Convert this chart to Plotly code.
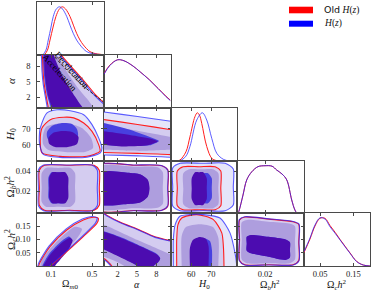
import plotly.graph_objects as go

# ---------------- data ----------------
PARAM_LABELS = ["Ω<sub><i>m</i>0</sub>", "<i>α</i>", "<i>H</i><sub>0</sub>",
                "Ω<sub><i>b</i></sub><i>h</i><sup>2</sup>", "Ω<sub><i>c</i></sub><i>h</i><sup>2</sup>"]
TICKVALS = [[0.1, 0.5], [2, 5, 8], [60, 70], [0.02, 0.04], [0.05, 0.10, 0.15]]
TICKTEXT = [["0.1", "0.5"], ["2", "5", "8"], ["60", "70"], ["0.02", "0.04"], ["0.05", "0.10", "0.15"]]
XTICKVALS_BOTTOM = [[0.1, 0.5], [2, 5, 8], [60, 70], [0.02], [0.05, 0.15]]
XTICKTEXT_BOTTOM = [["0.1", "0.5"], ["2", "5", "8"], ["60", "70"], ["0.02"], ["0.05", "0.15"]]
SERIES = ["Old <i>H</i>(<i>z</i>)", "<i>H</i>(<i>z</i>)"]

# 1D marginals (normalised to peak = 1)
OM_BLUE_X = [0.02, 0.05, 0.073, 0.1, 0.122, 0.15, 0.181, 0.21, 0.253, 0.285, 0.317, 0.35, 0.383, 0.415, 0.448, 0.5, 0.546, 0.6]
OM_BLUE_P = [0.0, 0.1, 0.31, 0.58, 0.80, 0.95, 1.0, 0.96, 0.80, 0.62, 0.45, 0.31, 0.21, 0.13, 0.07, 0.03, 0.015, 0.005]
OM_RED_X = [0.035, 0.065, 0.09, 0.12, 0.148, 0.18, 0.21, 0.24, 0.285, 0.318, 0.35, 0.383, 0.415, 0.448, 0.48, 0.53, 0.578, 0.617]
OM_RED_P = [0.0, 0.1, 0.31, 0.58, 0.80, 0.95, 1.0, 0.96, 0.80, 0.62, 0.45, 0.31, 0.21, 0.13, 0.07, 0.03, 0.015, 0.005]

AL_X = [-0.1, 0.8, 2.0, 3.0, 4.4, 5.5, 6.95, 8.3, 9.5, 10.2]
AL_BLUE_P = [0.70, 0.88, 1.0, 0.98, 0.87, 0.75, 0.58, 0.40, 0.235, 0.15]
AL_RED_P = [0.71, 0.89, 1.0, 0.98, 0.87, 0.75, 0.585, 0.405, 0.245, 0.16]

H0_RED_X = [50.0, 52.5, 54.4, 57.4, 59.4, 61.9, 63.1, 64.2, 65.3, 67.8, 70.3, 72.5, 75.0, 80.0]
H0_RED_P = [0.0, 0.003, 0.02, 0.19, 0.50, 0.92, 1.0, 0.95, 0.78, 0.30, 0.056, 0.01, 0.0, 0.0]
H0_BLUE_X = [50.0, 52.5, 54.4, 57.4, 59.4, 62.8, 65.6, 67.8, 70.3, 72.8, 76.1, 79.4, 82.0]
H0_BLUE_P = [0.0, 0.0, 0.006, 0.10, 0.30, 0.85, 1.0, 0.85, 0.47, 0.16, 0.035, 0.0, 0.0]

OB_X = [-0.001, -0.0002, 0.0027, 0.0056, 0.0095, 0.0144, 0.0199, 0.0254, 0.029, 0.0332, 0.0369, 0.0408, 0.0433, 0.0449, 0.047]
OB_P = [0.0, 0.063, 0.38, 0.70, 0.87, 0.98, 1.0, 0.99, 0.91, 0.825, 0.70, 0.275, 0.063, 0.0, 0.0]

OC_X = [0.0015, 0.0195, 0.0345, 0.0495, 0.0646, 0.0796, 0.095, 0.11, 0.125, 0.14, 0.16, 0.18, 0.2]
OC_BLUE_P = [0.297, 0.58, 0.85, 1.0, 0.975, 0.815, 0.68, 0.54, 0.40, 0.264, 0.09, 0.02, 0.0]
OC_RED_P = [0.28, 0.56, 0.83, 0.99, 0.99, 0.84, 0.70, 0.55, 0.41, 0.27, 0.095, 0.02, 0.0]

# 2D credible-region outlines (data units): BO blue outer, RO red outer, MID middle, BI blue inner, RI red inner
OM_AL = {
    "BO": ([-0.005, 0.005, 0.012, 0.024, 0.045, 0.063, 0.07, 0.72, 0.612, 0.522, 0.412, 0.292, 0.182, 0.152],
           [11.0, 10.2, 7.0, 4.5, 2.0, 0.0, -1.0, -1.0, 0.7, 2.4, 5.0, 7.7, 10.2, 11.0]),
    "RO": ([0.005, 0.015, 0.022, 0.034, 0.055, 0.073, 0.08, 0.73, 0.628, 0.538, 0.428, 0.308, 0.198, 0.17],
           [11.0, 10.2, 7.0, 4.5, 2.0, 0.0, -1.0, -1.0, 0.7, 2.4, 5.0, 7.7, 10.2, 11.0]),
    "MID": ([0.01, 0.02, 0.03, 0.045, 0.07, 0.09, 0.1, 0.56, 0.52, 0.461, 0.363, 0.256, 0.158, 0.15],
            [11.0, 10.2, 7.0, 4.5, 2.0, 0.0, -1.0, -1.0, -0.1, 1.46, 3.79, 6.9, 10.2, 11.0]),
    "BI": ([0.01, 0.017, 0.031, 0.061, 0.1, 0.11, 0.42, 0.402, 0.373, 0.295, 0.197, 0.116, 0.11],
           [11.0, 10.2, 6.32, 2.43, -0.1, -1.0, -1.0, -0.1, 0.69, 3.02, 6.32, 10.2, 11.0]),
    "RI": ([0.025, 0.031, 0.041, 0.07, 0.109, 0.115, 0.43, 0.412, 0.383, 0.305, 0.207, 0.126, 0.12],
           [11.0, 10.2, 6.32, 2.43, -0.1, -1.0, -1.0, -0.1, 0.69, 3.02, 6.32, 10.2, 11.0]),
}
DECEL_OM = [0.105, 0.18, 0.253, 0.32, 0.383, 0.46, 0.546, 0.61, 0.66]
DECEL_AL = [10.6, 8.8, 7.29, 5.95, 4.7, 3.43, 2.1, 1.13, 0.45]

OM_H0 = {
    "BO": ([-0.011, -0.005, 0.061, 0.158, 0.288, 0.419, 0.50, 0.565, 0.597, 0.581, 0.451, 0.187, 0.028, -0.011],
           [68.3, 70.4, 79.8, 81.8, 81.2, 78.7, 72.5, 64.2, 57.9, 54.8, 52.1, 52.0, 53.7, 60.0]),
    "RO": ([-0.005, 0.012, 0.093, 0.224, 0.321, 0.419, 0.50, 0.565, 0.578, 0.451, 0.187, 0.012],
           [62.1, 70.4, 75.6, 77.1, 76.7, 73.5, 68.3, 60.0, 55.8, 52.7, 52.6, 54.8]),
    "MID": ([0.022, 0.051, 0.139, 0.285, 0.402, 0.49, 0.51, 0.431, 0.236, 0.07, 0.022],
            [66.0, 71.0, 72.9, 72.9, 70.4, 64.2, 57.9, 55.4, 55.4, 56.7, 60.4]),
    "BI": ([0.061, 0.109, 0.207, 0.305, 0.353, 0.363, 0.305, 0.187, 0.09, 0.061],
           [67.9, 71.6, 73.5, 72.9, 69.8, 65.4, 61.0, 59.8, 61.7, 64.8]),
    "RI": ([0.075, 0.119, 0.207, 0.305, 0.368, 0.353, 0.265, 0.139, 0.08],
           [64.2, 67.3, 68.5, 67.9, 64.8, 60.4, 58.5, 58.5, 60.7]),
}
OM_OB = {
    "BO": ([-0.024, -0.024, 0.026, 0.26, 0.50, 0.551, 0.551, 0.551, 0.50, 0.26, 0.026, -0.024],
           [0.023, 0.041, 0.046, 0.046, 0.046, 0.041, 0.023, 0.0053, 0.0003, 0.0003, 0.0003, 0.0053]),
    "RO": ([-0.014, -0.014, 0.036, 0.28, 0.52, 0.571, 0.571, 0.571, 0.52, 0.28, 0.036, -0.014],
           [0.023, 0.0407, 0.0457, 0.0457, 0.0457, 0.0407, 0.023, 0.0057, 0.0007, 0.0007, 0.0007, 0.0057]),
    "MID": ([0.009, 0.009, 0.05, 0.17, 0.29, 0.334, 0.334, 0.334, 0.29, 0.17, 0.05, 0.009],
            [0.0237, 0.038, 0.043, 0.043, 0.043, 0.038, 0.0237, 0.009, 0.0043, 0.0043, 0.0043, 0.009]),
    "BI": ([0.075, 0.075, 0.105, 0.165, 0.225, 0.255, 0.255, 0.255, 0.225, 0.165, 0.105, 0.075],
           [0.0232, 0.0337, 0.0387, 0.0387, 0.0387, 0.0337, 0.0232, 0.0127, 0.0077, 0.0077, 0.0077, 0.0127]),
    "RI": ([0.083, 0.083, 0.113, 0.175, 0.238, 0.268, 0.268, 0.268, 0.238, 0.175, 0.113, 0.083],
           [0.0232, 0.0337, 0.0387, 0.0387, 0.0387, 0.0337, 0.0232, 0.0127, 0.0077, 0.0077, 0.0077, 0.0127]),
}
OM_OC = {
    "BO": ([-0.035, -0.022, 0.08, 0.245, 0.405, 0.50, 0.548, 0.535, 0.405, 0.245, 0.115, 0.08, 0.05],
           [-0.02, 0.01, 0.075, 0.139, 0.177, 0.187, 0.182, 0.163, 0.112, 0.055, 0.01, 0.0, -0.02]),
    "RO": ([-0.025, -0.012, 0.09, 0.253, 0.415, 0.512, 0.561, 0.548, 0.415, 0.253, 0.122, 0.09, 0.06],
           [-0.02, 0.01, 0.073, 0.136, 0.174, 0.184, 0.180, 0.161, 0.111, 0.054, 0.010, 0.0, -0.02]),
    "MID": ([0.0, 0.009, 0.171, 0.334, 0.402, 0.366, 0.253, 0.155, 0.122, 0.12],
            [-0.02, 0.0226, 0.098, 0.148, 0.14, 0.111, 0.060, 0.0226, 0.0, -0.02]),
    "BI": ([0.005, 0.015, 0.08, 0.21, 0.275, 0.30, 0.258, 0.177, 0.129, 0.13],
           [-0.02, 0.0, 0.045, 0.096, 0.111, 0.102, 0.064, 0.026, 0.0, -0.02]),
    "RI": ([0.012, 0.025, 0.09, 0.22, 0.285, 0.311, 0.268, 0.187, 0.139, 0.14],
           [-0.02, 0.0, 0.0415, 0.092, 0.107, 0.098, 0.060, 0.0226, 0.0, -0.02]),
}
AL_H0 = {
    "BO": ([-1, -0.1, 5.1, 10.3, 11, 11, 10.3, 5.1, -0.1, -1],
           [80.9, 80.4, 77.6, 74.6, 74.2, 51.5, 52.0, 52.9, 53.5, 53.6]),
    "RO": ([-1, -0.1, 5.1, 10.3, 11, 11, 10.3, 5.1, -0.1, -1],
           [76.1, 75.6, 72.6, 69.3, 68.9, 53.2, 53.7, 54.5, 55.0, 55.1]),
    "MID": ([-1, -0.1, 7.0, 10.3, 11, 11, 10.3, 5.4, -0.1, -1],
            [72.8, 72.3, 67.3, 64.8, 64.5, 56.5, 56.7, 56.0, 56.7, 56.8]),
    "BI": ([-1, -0.1, 3.9, 7.6, 8.4, 6.95, 3.1, -0.1, -1],
           [74.0, 73.5, 69.2, 63.8, 62.3, 59.5, 59.2, 59.8, 60.0]),
    "RI": ([-1, -0.1, 3.9, 7.3, 8.2, 6.65, 2.97, -0.1, -1],
           [68.6, 68.3, 66.0, 63.5, 62.0, 59.5, 58.8, 59.8, 60.0]),
}
AL_OB = {
    "BO": ([-1, 4.5, 8.8, 9.76, 9.76, 9.76, 8.8, 4.5, -1],
           [0.046, 0.046, 0.0455, 0.041, 0.023, 0.005, 0.0005, 0.0003, 0.0003]),
    "RO": ([-1, 4.5, 8.85, 9.8, 9.8, 9.8, 8.85, 4.5, -1],
           [0.0458, 0.0458, 0.0453, 0.041, 0.023, 0.005, 0.0007, 0.0005, 0.0005]),
    "MID": ([-1, 4.5, 8.2, 9.0, 9.0, 9.0, 8.2, 4.5, -1],
            [0.0443, 0.0443, 0.0438, 0.039, 0.023, 0.007, 0.0032, 0.0027, 0.0027]),
    "BI": ([-1, 3.5, 5.55, 6.65, 6.9, 6.65, 5.55, 3.5, -1],
           [0.0383, 0.0383, 0.0365, 0.031, 0.0228, 0.0145, 0.0088, 0.007, 0.007]),
    "RI": ([-1, 3.5, 5.6, 6.7, 6.95, 6.7, 5.6, 3.5, -1],
           [0.0383, 0.0383, 0.0365, 0.031, 0.0228, 0.0145, 0.0088, 0.007, 0.007]),
}
AL_OC = {
    "BO": ([-1, 0.31, 2.35, 5.4, 7.7, 9.76, 11, 11, 1.2, 0.93, -0.1, -1],
           [0.21, 0.19, 0.164, 0.134, 0.109, 0.096, 0.088, -0.03, -0.03, 0.0, 0.024, 0.03]),
    "RO": ([-1, 0.31, 2.35, 5.4, 7.7, 9.76, 11, 11, 1.4, 1.1, -0.1, -1],
           [0.212, 0.192, 0.166, 0.136, 0.111, 0.098, 0.09, -0.03, -0.03, 0.0, 0.028, 0.034]),
    "MID": ([-1, -0.1, 5.1, 10.3, 11, 11, 3.2, 3.0, 1.5, -0.1, -1],
            [0.162, 0.156, 0.098, 0.043, 0.036, -0.03, -0.03, 0.0, 0.02, 0.035, 0.04]),
    "BI": ([-1, -0.1, 2.35, 5.0, 7.0, 8.1, 8.6, 8.2, 7.6, 7.5, 4.9, 5.0, 3.5, 1.6, -0.1, -1],
           [0.135, 0.131, 0.110, 0.082, 0.059, 0.045, 0.029, 0.012, 0.0, -0.03, -0.03, 0.0, 0.022, 0.044, 0.064, 0.07]),
    "RI": ([-1, -0.1, 2.35, 5.0, 7.0, 8.1, 8.6, 8.2, 7.6, 7.5, 4.9, 5.0, 3.5, 1.6, -0.1, -1],
           [0.133, 0.129, 0.108, 0.080, 0.057, 0.043, 0.028, 0.012, 0.0, -0.03, -0.03, 0.0, 0.02, 0.042, 0.062, 0.068]),
}
H0_OB = {
    "BO": ([50.8, 50.8, 54.5, 66, 77, 81.05, 81.05, 81.05, 77, 66, 54.5, 50.8],
           [0.024, 0.043, 0.0477, 0.0477, 0.0477, 0.042, 0.024, 0.006, 0.0003, 0.0003, 0.0003, 0.005]),
    "RO": ([53.1, 53.1, 56, 64, 72, 74.8, 74.8, 74.8, 72, 64, 56, 53.1],
           [0.0228, 0.040, 0.0443, 0.0443, 0.0443, 0.040, 0.0228, 0.0053, 0.0013, 0.0013, 0.0013, 0.0053]),
    "MID": ([56.1, 56.1, 59, 65, 71, 73.6, 73.6, 73.6, 71, 65, 59, 56.1],
            [0.0222, 0.0377, 0.0417, 0.0417, 0.0417, 0.0377, 0.0222, 0.0067, 0.0027, 0.0027, 0.0027, 0.0067]),
    "BI": ([61.9, 61.9, 63.8, 66.1, 68.4, 70.3, 70.3, 70.3, 68.4, 66.1, 63.8, 61.9],
           [0.0227, 0.0327, 0.0377, 0.0377, 0.0377, 0.0327, 0.0227, 0.0127, 0.0077, 0.0077, 0.0077, 0.0127]),
    "RI": ([60.3, 60.3, 62, 64, 66, 67.8, 67.8, 67.8, 66, 64, 62, 60.3],
           [0.0224, 0.0327, 0.0387, 0.0387, 0.0387, 0.0327, 0.0224, 0.012, 0.006, 0.006, 0.006, 0.012]),
}
H0_OC = {
    "BO": ([51.1, 51.1, 51.1, 52.0, 54.4, 59.4, 66.1, 74.4, 79.4, 81.9, 82.8, 83.0],
           [-0.03, 0.0, 0.098, 0.155, 0.188, 0.194, 0.194, 0.181, 0.125, 0.049, 0.0, -0.03]),
    "RO": ([52.8, 52.8, 52.8, 53.4, 55.3, 62.8, 71.1, 75.3, 76.1, 76.4, 76.4],
           [-0.03, 0.0, 0.098, 0.155, 0.181, 0.194, 0.175, 0.125, 0.074, 0.0, -0.03]),
    "MID": ([55.3, 55.3, 55.3, 57.4, 64.4, 70.9, 73.6, 73.6, 73.6],
            [-0.03, 0.0, 0.113, 0.147, 0.158, 0.147, 0.106, 0.0, -0.03]),
    "BI": ([61.1, 61.1, 61.1, 63.0, 66.4, 69.4, 70.4, 70.4, 70.4],
           [-0.03, 0.0, 0.07, 0.100, 0.106, 0.094, 0.060, 0.0, -0.03]),
    "RI": ([59.4, 59.4, 59.4, 60.9, 64.4, 67.4, 68.7, 68.7, 68.7],
           [-0.03, 0.0, 0.068, 0.098, 0.109, 0.102, 0.075, 0.0, -0.03]),
}
OB_OC = {
    "BO": ([-0.0002, -0.0002, 0.004, 0.023, 0.042, 0.0465, 0.0465, 0.0465, 0.042, 0.023, 0.004, -0.0002],
           [0.1, 0.175, 0.186, 0.178, 0.168, 0.158, 0.09, 0.02, 0.004, 0.004, 0.004, 0.02]),
    "RO": ([0.0, 0.0, 0.0042, 0.023, 0.0418, 0.0463, 0.0463, 0.0463, 0.0418, 0.023, 0.0042, 0.0],
           [0.1, 0.174, 0.185, 0.177, 0.167, 0.157, 0.09, 0.021, 0.0045, 0.0045, 0.0045, 0.021]),
    "MID": ([0.0017, 0.0017, 0.006, 0.0225, 0.039, 0.0433, 0.0433, 0.0433, 0.039, 0.0225, 0.006, 0.0017],
            [0.1, 0.165, 0.174, 0.167, 0.16, 0.15, 0.09, 0.025, 0.010, 0.010, 0.010, 0.025]),
    "BI": ([0.0056, 0.0056, 0.009, 0.0225, 0.036, 0.0394, 0.0394, 0.0394, 0.036, 0.0225, 0.009, 0.0056],
           [0.085, 0.11, 0.117, 0.11, 0.1, 0.09, 0.06, 0.032, 0.023, 0.035, 0.048, 0.058]),
    "RI": ([0.0056, 0.0056, 0.009, 0.0225, 0.036, 0.0394, 0.0394, 0.0394, 0.036, 0.0225, 0.009, 0.0056],
           [0.085, 0.11, 0.117, 0.11, 0.1, 0.09, 0.06, 0.032, 0.023, 0.035, 0.048, 0.058]),
}

# ---------------- layout / style ----------------
W, H = 374, 291
XE = [37.3, 104, 170.5, 237, 303.5, 370]
YE = [2, 55, 108, 161, 213, 266]
RANGES = [[-0.034, 0.617], [-0.1, 10.2], [49.7, 82.9], [-0.002, 0.05], [0.0, 0.2]]
DIAG_RANGE = [0, 1.1]
FONT = "Liberation Serif"
FRAME = "#4a4a4a"
FILL = {"BO": "rgb(229,229,250)", "RO": "rgb(212,204,240)", "MID": "rgb(174,158,222)",
        "BI": "rgb(72,64,224)", "RI": "rgb(76,12,176)"}
RED = "rgb(255,30,30)"
BLUE = "rgba(30,30,255,0.72)"

PANELS = [(r, c) for r in range(5) for c in range(r + 1)]
KIDX = {p: i + 1 for i, p in enumerate(PANELS)}


def axn(k):
    s = "" if k == 1 else str(k)
    return "x" + s, "y" + s


fig = go.Figure()


def closed(xs, ys):
    return list(xs) + [xs[0]], list(ys) + [ys[0]]


def add_panel(rc, data, lines=True):
    xa, ya = axn(KIDX[rc])
    for key in ["BO", "RO", "MID", "BI", "RI"]:
        xs, ys = closed(*data[key])
        fig.add_trace(go.Scatter(x=xs, y=ys, mode="lines", fill="toself", fillcolor=FILL[key],
                                 line=dict(width=0, shape="spline", smoothing=0.7),
                                 xaxis=xa, yaxis=ya, hoverinfo="skip", showlegend=False))
    if lines:
        for key, col in [("RO", RED), ("BO", BLUE)]:
            xs, ys = closed(*data[key])
            fig.add_trace(go.Scatter(x=xs, y=ys, mode="lines",
                                     line=dict(width=1.1, color=col, shape="spline", smoothing=0.7),
                                     xaxis=xa, yaxis=ya, hoverinfo="skip", showlegend=False))


add_panel((1, 0), OM_AL)
add_panel((2, 0), OM_H0)
add_panel((3, 0), OM_OB)
add_panel((4, 0), OM_OC)
add_panel((2, 1), AL_H0)
add_panel((3, 1), AL_OB)
add_panel((4, 1), AL_OC)
add_panel((3, 2), H0_OB)
add_panel((4, 2), H0_OC)
add_panel((4, 3), OB_OC)

# deceleration / acceleration boundary
xa, ya = axn(KIDX[(1, 0)])
fig.add_trace(go.Scatter(x=DECEL_OM, y=DECEL_AL, mode="lines",
                         line=dict(width=1, color="#222", dash="3px,2px", shape="spline"),
                         xaxis=xa, yaxis=ya, hoverinfo="skip", showlegend=False))


def add_1d(c, xr, pr, xb, pb):
    xa, ya = axn(KIDX[(c, c)])
    fig.add_trace(go.Scatter(x=xr, y=pr, mode="lines", line=dict(width=1, color=RED, shape="spline"),
                             xaxis=xa, yaxis=ya, hoverinfo="skip", showlegend=False))
    fig.add_trace(go.Scatter(x=xb, y=pb, mode="lines", line=dict(width=1, color=BLUE, shape="spline"),
                             xaxis=xa, yaxis=ya, hoverinfo="skip", showlegend=False))


add_1d(0, OM_RED_X, OM_RED_P, OM_BLUE_X, OM_BLUE_P)
add_1d(1, AL_X, AL_RED_P, AL_X, AL_BLUE_P)
add_1d(2, H0_RED_X, H0_RED_P, H0_BLUE_X, H0_BLUE_P)
add_1d(3, OB_X, OB_P, OB_X, OB_P)
add_1d(4, OC_X, OC_RED_P, OC_X, OC_BLUE_P)

layout = dict(width=W, height=H, autosize=False, margin=dict(l=0, r=0, t=0, b=0),
              paper_bgcolor="white", plot_bgcolor="white", showlegend=False,
              font=dict(family=FONT, size=9, color="#111"))
for (r, c), k in KIDX.items():
    s = "" if k == 1 else str(k)
    xd = [XE[c] / W, XE[c + 1] / W]
    yd = [1 - YE[r + 1] / H, 1 - YE[r] / H]
    bottom = r == 4
    common = dict(showline=True, linecolor=FRAME, linewidth=1, mirror="ticks", showgrid=False,
                  zeroline=False, ticks="inside", ticklen=3, tickwidth=0.8, tickcolor=FRAME,
                  tickfont=dict(family=FONT, size=8.5, color="#222"))
    layout["xaxis" + s] = dict(common, domain=xd, anchor="y" + s, range=RANGES[c],
                               tickvals=XTICKVALS_BOTTOM[c], ticktext=XTICKTEXT_BOTTOM[c],
                               showticklabels=bottom, ticklabelstandoff=0)
    if r == c:
        layout["yaxis" + s] = dict(domain=yd, anchor="x" + s, range=DIAG_RANGE, showline=True,
                                   linecolor=FRAME, linewidth=1, mirror=True, showgrid=False,
                                   zeroline=False, ticks="", showticklabels=False)
    else:
        layout["yaxis" + s] = dict(common, domain=yd, anchor="x" + s, range=RANGES[r],
                                   tickvals=TICKVALS[r], ticktext=TICKTEXT[r],
                                   showticklabels=(c == 0), ticklabelstandoff=4)
fig.update_layout(**layout)

ann = []
for c in range(5):
    ann.append(dict(x=(XE[c] + XE[c + 1]) / 2 / W, y=1 - 284.8 / H, xref="paper", yref="paper",
                    text=PARAM_LABELS[c], showarrow=False, font=dict(family=FONT, size=10, color="#111"),
                    xanchor="center", yanchor="middle"))
for r in range(1, 5):
    ann.append(dict(x=10.5 / W, y=1 - (YE[r] + YE[r + 1]) / 2 / H, xref="paper", yref="paper",
                    text=PARAM_LABELS[r], showarrow=False, textangle=-90,
                    font=dict(family=FONT, size=11, color="#111"), xanchor="center", yanchor="middle"))
xa, ya = axn(KIDX[(1, 0)])
ann.append(dict(x=0.302, y=7.3, xref=xa, yref=ya, text="Deceleration", showarrow=False, textangle=48,
                font=dict(family=FONT, size=9, color="#000")))
ann.append(dict(x=0.19, y=6.8, xref=xa, yref=ya, text="Acceleration", showarrow=False, textangle=48,
                font=dict(family=FONT, size=9, color="#000")))
for i, (txt, yc) in enumerate(zip(SERIES, [10, 23.7])):
    ann.append(dict(x=322 / W, y=1 - yc / H, xref="paper", yref="paper", xanchor="left", yanchor="middle",
                    text=(txt.replace("Old ", "<span style='font-family:DejaVu Sans'>Old</span> ") if i == 0 else txt),
                    showarrow=False, font=dict(family=FONT, size=9.5, color="#111")))
fig.update_layout(annotations=ann)

shapes = [
    dict(type="rect", xref="paper", yref="paper", x0=289 / W, x1=313 / W, y0=1 - 13.3 / H, y1=1 - 6.7 / H,
         fillcolor="rgb(255,0,0)", line=dict(width=0)),
    dict(type="rect", xref="paper", yref="paper", x0=289 / W, x1=313 / W, y0=1 - 26.7 / H, y1=1 - 20.7 / H,
         fillcolor="rgb(0,0,255)", line=dict(width=0)),
]
fig.update_layout(shapes=shapes)

fig.write_html("out.html", config={"displayModeBar": False},
               post_script="document.body.style.margin='0px';document.body.style.overflow='hidden';")
